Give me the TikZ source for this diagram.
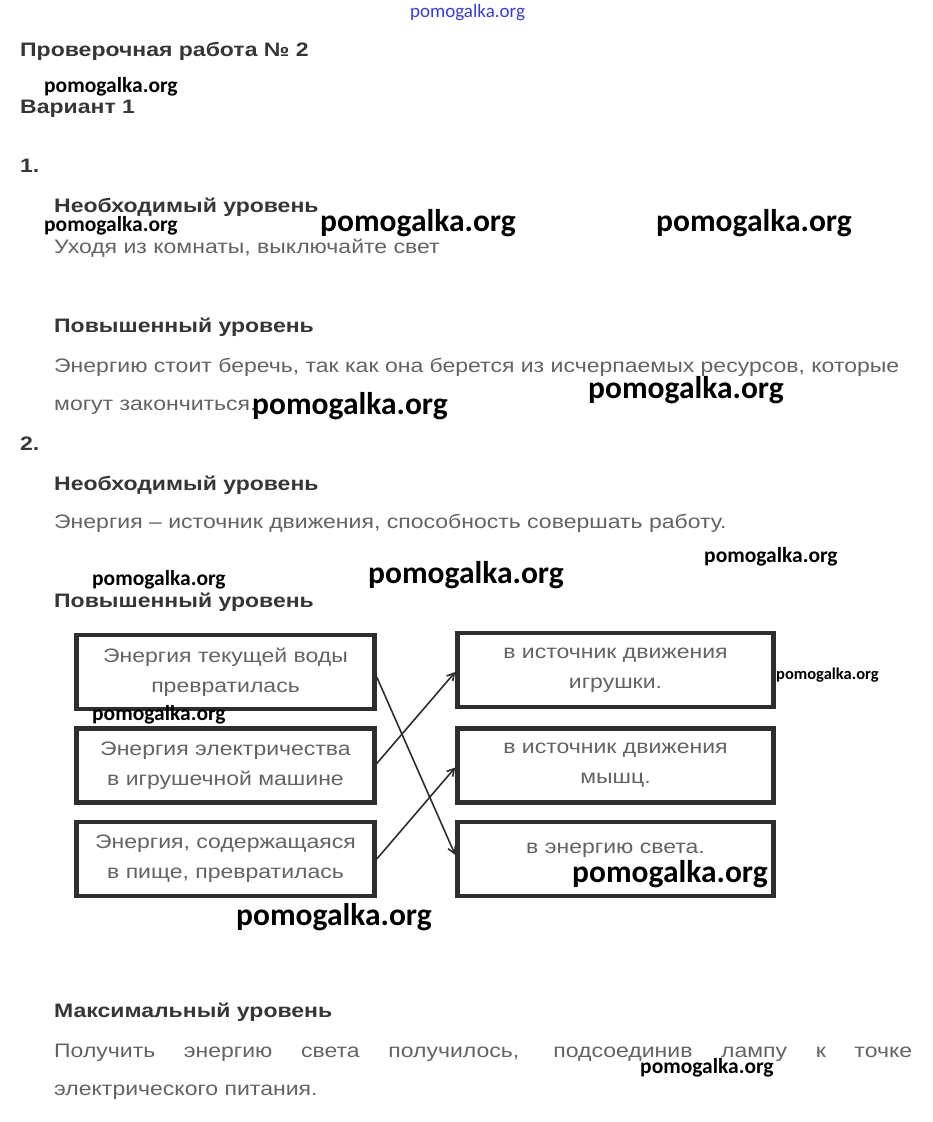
\documentclass[tikz,border=0pt]{standalone}
\usepackage{fontspec}
\setmainfont[FakeStretch = 1.18]{Liberation Sans}
\newfontfamily\markfont{Carlito}
\usetikzlibrary{positioning, arrows.meta}
\definecolor{txtgray}{HTML}{636363}
\definecolor{headgray}{HTML}{363636}
\definecolor{boxgray}{HTML}{2E2E2E}
\definecolor{markblue}{HTML}{3A3AE0}

\begin{document}
\begin{tikzpicture}[x = 1pt, y = -1pt,
	txt/.style  = {anchor = base west, inner sep = 0pt, text = txtgray, font = \fontsize{19.5}{24}\selectfont},
	head/.style = {anchor = base west, inner sep = 0pt, text = headgray, font = \fontsize{19.5}{24}\selectfont\bfseries},
	wmark/.style = {anchor = base west, inner sep = 0pt, font = \markfont\fontsize{21.5}{26}\selectfont\bfseries},
	bigwmark/.style = {wmark, font = \markfont\fontsize{31.5}{36}\selectfont\bfseries},
	lbox/.style = {draw = boxgray, line width = 4.5pt, minimum width = 298pt, minimum height = 74pt,
		inner sep = 0pt, align = center, text = txtgray, font = \fontsize{19.5}{30}\selectfont},
	rbox/.style = {lbox, minimum width = 316pt},
	link/.style = {-{Straight Barb[length = 7pt, width = 8pt]}, draw = boxgray, line width = 1.6pt}]
	\useasboundingbox[fill = white] (0, 0) rectangle (932, 1122);
	% headings and answers
	\node[wmark, text = markblue, font = \markfont\fontsize{19}{22}\selectfont] (wm0) at (410, 17) {pomogalka.org};
	\node[head] (title) at (20, 56) {Проверочная работа № 2};
	\node[head] (var) at (20, 113) {Вариант 1};
	\node[head] (q1) at (20, 172) {1.};
	\node[head] (q1a) at (54, 212) {Необходимый уровень};
	\node[txt] (a1a) at (54, 253) {Уходя из комнаты, выключайте свет};
	\node[head] (q1b) at (54, 332) {Повышенный уровень};
	\node[txt] (a1b) at (54, 372) {Энергию стоит беречь, так как она берется из исчерпаемых ресурсов, которые};
	\node[txt] (a1c) at (54, 410) {могут закончиться.};
	\node[head] (q2) at (20, 450) {2.};
	\node[head] (q2a) at (54, 490) {Необходимый уровень};
	\node[txt] (a2a) at (54, 528) {Энергия – источник движения, способность совершать работу.};
	\node[head] (q2b) at (54, 607) {Повышенный уровень};
	\node[head] (q2c) at (54, 1017) {Максимальный уровень};
	\node[txt] (a2c) at (54, 1057) {\makebox[858pt][s]{Получить энергию света получилось, подсоединив лампу к точке}};
	\node[txt] (a2d) at (54, 1095) {электрического питания.};
	% matching boxes
	\node[lbox] (l1) at (225.5, 672) {Энергия текущей воды\\превратилась};
	\node[lbox] (l2) at (225.5, 765.5) {Энергия электричества\\в игрушечной машине};
	\node[lbox] (l3) at (225.5, 859) {Энергия, содержащаяся\\в пище, превратилась};
	\node[rbox] (r1) at (615.5, 670) {в источник движения\\игрушки.};
	\node[rbox] (r2) at (615.5, 765.5) {в источник движения\\мышц.};
	\node[rbox, text depth = 22pt] (r3) at (615.5, 859) {в энергию света.};
	\draw[link] ([yshift = -5pt]l1.east) -- ([yshift = 4pt]r3.west);
	\draw[link] ([yshift = 2pt]l2.east) -- ([yshift = -2pt]r1.west);
	\draw[link] (l3.east) -- ([yshift = -2pt]r2.west);
	% watermarks
	\node[wmark] (wm1) at (44, 92) {pomogalka.org};
	\node[wmark] (wm2) at (44, 231) {pomogalka.org};
	\node[bigwmark] (wm3) at (320, 231) {pomogalka.org};
	\node[bigwmark] (wm4) at (656, 231) {pomogalka.org};
	\node[bigwmark] (wm5) at (252, 414) {pomogalka.org};
	\node[bigwmark] (wm6) at (588, 398) {pomogalka.org};
	\node[wmark] (wm7) at (704, 562) {pomogalka.org};
	\node[wmark] (wm8) at (92, 585) {pomogalka.org};
	\node[bigwmark] (wm9) at (368, 583) {pomogalka.org};
	\node[wmark] (wm10) at (92, 720) {pomogalka.org};
	\node[wmark, font = \markfont\fontsize{16.5}{20}\selectfont\bfseries] (wm11) at (776, 679) {pomogalka.org};
	\node[bigwmark] (wm12) at (572, 882) {pomogalka.org};
	\node[bigwmark] (wm13) at (236, 925) {pomogalka.org};
	\node[wmark] (wm14) at (640, 1073) {pomogalka.org};
\end{tikzpicture}
\end{document}
